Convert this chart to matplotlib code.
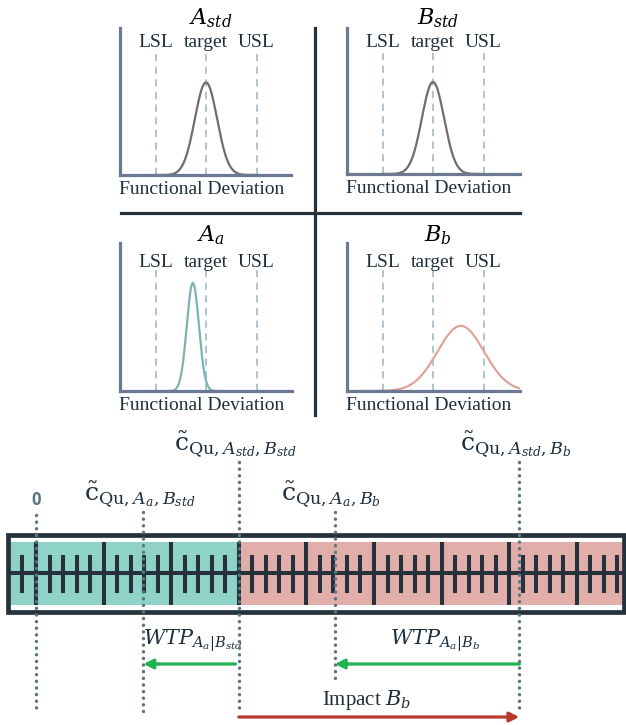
import numpy as np
import matplotlib.pyplot as plt
from matplotlib.lines import Line2D
from matplotlib.patches import Rectangle

plt.rcParams['font.family'] = ['Liberation Serif', 'DejaVu Serif']
plt.rcParams['mathtext.fontset'] = 'dejavuserif'

W, H = 626, 725
dark = '#25323b'
txt = '#1f2f3c'
spine_col = '#6b7a92'
dash_col = '#a9c0cb'

# --- distributions (deviation in units of spec width, LSL=-1, target=0, USL=1)
spec_pos = [-1, 0, 1]
spec_names = ['LSL', 'target', 'USL']
panel_titles = [r'$A_{std}$', r'$B_{std}$', r'$A_a$', r'$B_b$']
means = [0.0, 0.0, -0.26, 0.55]
sigmas = [0.22, 0.22, 0.12, 0.46]
peaks = [0.63, 0.63, 0.73, 0.44]
curve_colors = ['#6e6e6e', '#6e6e6e', '#7db3b3', '#e0a39c']

# --- cost ruler (one major tick = one cost unit)
zero_cost = 0.0
cost_values = [1.59, 3.0, 4.42, 7.15]
cost_labels = [r'$\tilde{\mathrm{c}}_{\mathrm{Qu},A_a,B_{std}}$',
               r'$\tilde{\mathrm{c}}_{\mathrm{Qu},A_{std},B_{std}}$',
               r'$\tilde{\mathrm{c}}_{\mathrm{Qu},A_a,B_b}$',
               r'$\tilde{\mathrm{c}}_{\mathrm{Qu},A_{std},B_b}$']
ruler_lo, ruler_hi = -0.41, 8.70
wtp_labels = [r'$WTP_{A_a|B_{std}}$', r'$WTP_{A_a|B_b}$']
impact_label = r'Impact $B_b$'

fig = plt.figure(figsize=(6.26, 7.25), dpi=100)
ax = fig.add_axes([0, 0, 1, 1])
px = 67.6
ax.set_xlim(-36 / px, (W - 36) / px)
ax.set_ylim(H, 0)
ax.axis('off')

# panels: left, top, right, bottom in pixels
boxes = [(120, 28, 291, 175), (347, 28, 520, 174), (120, 243, 292, 391), (347, 243, 520, 391)]
title_y = [1.07, 1.07, 1.05, 1.05]
lab_y = [0.90, 0.90, 0.87, 0.87]
dash_top = [0.85, 0.85, 0.82, 0.82]
for i, (l, t, r, b) in enumerate(boxes):
    axp = fig.add_axes([l / W, 1 - b / H, (r - l) / W, (b - t) / H])
    axp.patch.set_visible(False)
    axp.set_xlim(-86 / 50.5, (r - l - 86) / 50.5)
    axp.set_ylim(0, 1)
    for s in ['top', 'right']:
        axp.spines[s].set_visible(False)
    for s in ['left', 'bottom']:
        axp.spines[s].set_color(spine_col)
        axp.spines[s].set_linewidth(2.3)
    axp.set_xticks([])
    axp.set_yticks([])
    axp.vlines(spec_pos, 0, dash_top[i], color=dash_col, lw=1.3, linestyles=(0, (4, 3)))
    for xp, nm in zip(spec_pos, spec_names):
        axp.text(xp, lab_y[i], nm, ha='center', va='center', fontsize=14, color=txt)
    xs = np.linspace(means[i] - 4.5 * sigmas[i], min(means[i] + 4.5 * sigmas[i], 1.7), 300)
    axp.plot(xs, peaks[i] * np.exp(-0.5 * ((xs - means[i]) / sigmas[i]) ** 2),
             color=curve_colors[i], lw=1.6)
    axp.text(0.1, title_y[i], panel_titles[i], ha='center', va='center', fontsize=16, color='black')
    axp.text(-0.08, -0.1, 'Functional Deviation', ha='center', va='center', fontsize=14, color=txt)

fig.add_artist(Line2D([315 / W, 315 / W], [1 - 28 / H, 1 - 415 / H], color=dark, lw=2.3))
fig.add_artist(Line2D([121 / W, 520 / W], [1 - 213 / H, 1 - 213 / H], color=dark, lw=2.3))

# ruler
c_std = cost_values[1]
ax.fill_between([ruler_lo, c_std], 542, 605, color='#8fd2c7', lw=0)
ax.fill_between([c_std, ruler_hi], 542, 605, color='#e1aeaa', lw=0)
ticks = np.round(np.arange(-0.2, 8.61, 0.2), 1)
major = ticks[np.isclose(ticks % 1, 0) | np.isclose(ticks % 1, 1)]
minor = np.setdiff1d(ticks, major)
ax.vlines(major, 542, 605, color=dark, lw=2.9)
ax.vlines(minor, 555, 593, color=dark, lw=2.9)
ax.hlines(573, ruler_lo, ruler_hi, color=dark, lw=2.9)
ax.add_patch(Rectangle((ruler_lo, 535), ruler_hi - ruler_lo, 77, fill=False, ec=dark, lw=3.4))

# dotted markers
dot_col = '#587684'
dot_x = [zero_cost] + cost_values
dot_top = [515, 512, 462, 512, 462]
dot_bot = [713, 713, 713, 683, 713]
for xv, t0, b0 in zip(dot_x, dot_top, dot_bot):
    ax.plot([xv, xv], [t0, b0], color=dot_col, lw=2.5, ls=(0, (0.01, 1.9)),
            dash_capstyle='round', zorder=5)

ax.text(zero_cost, 500, '0', ha='center', va='center', fontsize=12, fontweight='bold',
        color=dot_col, family='Open Sans')
for xv, t0, lab in zip(cost_values, dot_top[1:], cost_labels):
    ax.text(xv - 0.05, t0 - 2, lab, ha='center', va='bottom', fontsize=18, color=txt)

green = '#1db34f'
red = '#b8382c'
ax.annotate('', xy=(cost_values[0], 664), xytext=(cost_values[1] - 0.05, 664),
            arrowprops=dict(arrowstyle='-|>', color=green, lw=2.3, mutation_scale=14,
                            shrinkA=0, shrinkB=0))
ax.annotate('', xy=(cost_values[2], 664), xytext=(cost_values[3], 664),
            arrowprops=dict(arrowstyle='-|>', color=green, lw=2.3, mutation_scale=14,
                            shrinkA=0, shrinkB=0))
ax.annotate('', xy=(cost_values[3], 717), xytext=(cost_values[1], 717),
            arrowprops=dict(arrowstyle='-|>', color=red, lw=2.3, mutation_scale=14,
                            shrinkA=0, shrinkB=0))
ax.text((193 - 36) / px, 641, wtp_labels[0], ha='center', va='center', fontsize=15, color=txt)
ax.text((435 - 36) / px, 641, wtp_labels[1], ha='center', va='center', fontsize=15, color=txt)
ax.text((366 - 36) / px, 700, impact_label, ha='center', va='center', fontsize=15, color=txt)

fig.savefig('out.png', dpi=100)
